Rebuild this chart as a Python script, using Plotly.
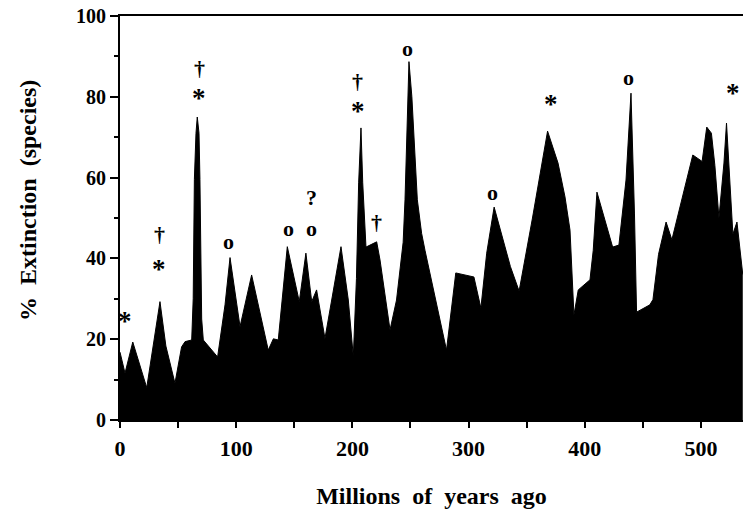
import plotly.graph_objects as go

# Millions of years ago (x) and % extinction of species (y)
ages = [0, 4.3, 11, 23, 34.4, 39.5, 47.3, 53, 56, 61.7, 63, 64, 65.4, 66.5, 68, 68.8, 70.3, 71.7,
        84, 90.4, 94.7, 99.5, 103.3, 113.3, 127.6, 132, 136.2, 144, 154.3, 160, 165, 169.2, 176.4,
        182.2, 190.2, 196.5, 200.8, 203.5, 205.4, 207.4, 208.9, 211.7, 220.9, 223.8, 232.4, 238,
        243.7, 245.3, 246.7, 248.7, 251.2, 253, 255.9, 259.6, 262.5, 281, 284, 289, 304.6, 310.6,
        315.6, 322, 336, 343.5, 355, 368, 377, 383, 387.3, 390.7, 394.4, 404.5, 407.3, 410.5, 424,
        429.4, 435.5, 439.8, 442.8, 444.6, 456, 458.7, 463.5, 470, 475, 493, 501, 505, 509, 512,
        515.5, 519.8, 522, 525, 527.5, 531, 536]
pct_extinction = [16.8, 11.6, 19.3, 8.0, 29.3, 18.3, 9.1, 18.1, 19.4, 19.8, 30, 59.5, 71, 75, 71,
                  59.5, 25, 19.8, 15.6, 28.5, 40.2, 30.5, 23.1, 35.9, 17.3, 20.1, 19.8, 42.9, 29.3,
                  41.3, 29.3, 32.2, 20.2, 29.7, 42.9, 29.7, 15.7, 35, 58.7, 72.3, 58.7, 42.8, 44.1,
                  39.6, 22.3, 29.7, 44, 54.5, 71, 88.7, 80, 71, 54.5, 46.2, 42, 17.3, 24.5, 36.4,
                  35.4, 27.7, 41.3, 52.7, 38, 31.9, 50, 71.5, 63.6, 55.2, 47, 26, 32.2, 34.7, 42,
                  56.4, 42.8, 43.3, 59.4, 80.9, 51, 26.7, 28.5, 29.8, 41, 49, 44.6, 65.6, 64, 72.5,
                  71, 63, 50, 63.6, 73.5, 59.4, 46, 49, 36]

# Event symbols above peaks
sym_x = [4.3, 33.6, 33.6, 68, 68, 93.8, 144.6, 164.4, 164.4, 204.8, 204.8, 221, 247.8, 321,
         371, 438, 528]
sym_y = [25.5, 45.8, 38.4, 87.1, 80.7, 44.3, 47.3, 47.3, 55, 83.7, 77.5, 49, 92, 56.2, 79.2,
         84.9, 82]
sym_text = ["*", "†", "*", "†", "*", "o", "o", "o", "?", "†", "*", "†", "o", "o", "*", "o", "*"]

x_ticks = [0, 100, 200, 300, 400, 500]
y_ticks = [0, 20, 40, 60, 80, 100]

FONT = "Liberation Serif, Times New Roman, serif"

W, H = 743, 509
ML, MT, MB = 120, 16, 89
PLOT_W = W - ML          # 623 px
PLOT_H = H - MT - MB     # 404 px

fig = go.Figure()
fig.add_trace(go.Scatter(
    x=ages, y=pct_extinction, mode="lines", fill="tozeroy",
    fillcolor="black", line=dict(color="black", width=1), hoverinfo="x+y",
    showlegend=False,
))

for sx, sy, st in zip(sym_x, sym_y, sym_text):
    if st == "*":
        size, shift = 27, -4
    else:
        size, shift = 22, 0
    fig.add_annotation(x=sx, y=sy, text=st, showarrow=False, xref="x", yref="y",
                       yshift=shift,
                       font=dict(family=FONT, size=size, color="black", weight="bold"))

fig.add_annotation(
    text="%  Extinction  (species)", textangle=-90, showarrow=False,
    xref="paper", yref="paper", x=(28 - ML) / PLOT_W, y=(MT + PLOT_H - 200) / PLOT_H,
    xanchor="center", yanchor="middle",
    font=dict(family=FONT, size=24, color="black", weight="bold"),
)

fig.update_layout(
    width=W, height=H,
    margin=dict(l=ML, r=0, t=MT, b=MB, autoexpand=False),
    paper_bgcolor="white", plot_bgcolor="white",
    font=dict(family=FONT, color="black"),
    xaxis=dict(
        range=[0, 536.2], tickvals=x_ticks, ticktext=[str(v) for v in x_ticks],
        automargin=False,
        showgrid=False, zeroline=False, showline=True, linecolor="black", linewidth=2,
        mirror=True, ticks="outside", ticklen=6, tickwidth=2, tickcolor="black",
        ticklabelstandoff=2,
        minor=dict(dtick=50, ticks="outside", ticklen=6, tickwidth=2, tickcolor="black"),
        tickfont=dict(family=FONT, size=22, color="black", weight="bold"),
        title=dict(text="Millions  of  years  ago", standoff=28,
                   font=dict(family=FONT, size=24, color="black", weight="bold")),
    ),
    yaxis=dict(
        range=[0, 100], tickvals=y_ticks, ticktext=[str(v) for v in y_ticks],
        automargin=False, ticklabeloverflow="allow",
        showgrid=False, zeroline=False, showline=True, linecolor="black", linewidth=2,
        ticks="outside", ticklen=8, tickwidth=2, tickcolor="black",
        minor=dict(dtick=10, ticks="outside", ticklen=4, tickwidth=2, tickcolor="black"),
        tickfont=dict(family=FONT, size=20, color="black", weight="bold"),
    ),
)

# Remove the browser's default 8px body margin so the figure fills the window exactly.
fig.write_html("out.html", config={"displayModeBar": False},
               post_script="document.body.style.margin='0px';")
